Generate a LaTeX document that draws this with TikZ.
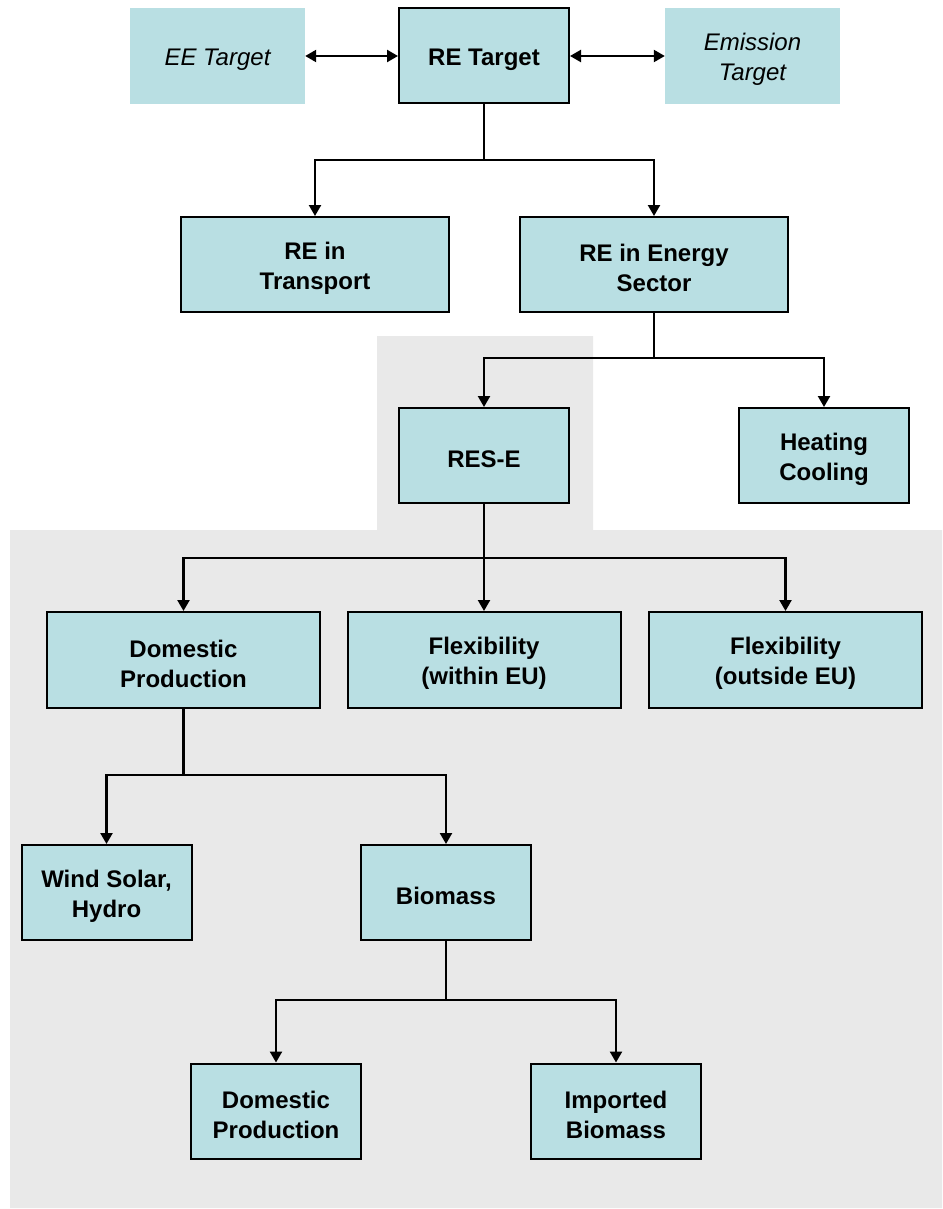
\documentclass[tikz,border=0pt]{standalone}
\usepackage{fontspec}
\setmainfont{Liberation Sans}
\usetikzlibrary{arrows.meta}
\definecolor{boxfill}{HTML}{B9DFE3}
\definecolor{panel}{HTML}{E9E9E9}
\begin{document}
\begin{tikzpicture}[x=1pt,y=-1pt,
  txt/.style={align=center,inner sep=0pt,yshift=-3.5pt,font=\fontsize{24}{30}\selectfont\bfseries},
  itxt/.style={txt,font=\fontsize{24}{30}\selectfont\itshape},
  box/.style={draw=black,line width=2pt,fill=boxfill,inner sep=0pt,label={[txt]center:{#1}}},
  side/.style={fill=boxfill,inner sep=0pt,minimum width=175pt,minimum height=96pt,label={[itxt]center:{#1}}},
  small/.style={box={#1},minimum width=170pt,minimum height=95pt},
  wide/.style={box={#1},minimum width=268pt,minimum height=95pt},
  mid/.style={box={#1},minimum width=273pt,minimum height=96pt},
  wire/.style={line width=2.3pt},
  tip/.tip={Triangle[length=11pt,width=12pt]},
  arr/.style={wire,-tip},
  darr/.style={wire,tip-tip}]
  \useasboundingbox (0,0) rectangle (942,1209);
  \fill[white] (0,0) rectangle (942,1209);
  % grey panel behind the electricity branch
  \fill[panel] (377,336) -- (593,336) -- (593,530) -- (942,530) -- (942,1208)
               -- (10,1208) -- (10,530) -- (377,530) -- cycle;

  % targets
  \node[side={EE Target}]        (ee) at (217.5,56) {};
  \node[small={RE Target}]       (re) at (484,56)   {};
  \node[side={Emission\\Target}] (em) at (752.5,56) {};
  \draw[darr] (ee.east) -- (re.west);
  \draw[darr] (re.east) -- (em.west);

  % sectors
  \node[wide={RE in\\Transport}]    (tr) at (315,264.5) {};
  \node[wide={RE in Energy\\Sector}] (es) at (654,264.5) {};
  \coordinate (b1) at (484,160);
  \draw[wire] (re.south) -- (b1);
  \draw[arr] (b1) -| (tr.north);
  \draw[arr] (b1) -| (es.north);

  % energy sector
  \node[small={RES-E}]            (rese) at (484,455.5) {};
  \node[small={Heating\\Cooling}] (hc)   at (824,455.5) {};
  \coordinate (b2) at (654,358);
  \draw[wire] (es.south) -- (b2);
  \draw[arr] (b2) -| (rese.north);
  \draw[arr] (b2) -| (hc.north);

  % electricity
  \node[mid={Domestic\\Production}]      (dom)  at (183.5,660) {};
  \node[mid={Flexibility\\(within EU)}]  (fin)  at (484,660)   {};
  \node[mid={Flexibility\\(outside EU)}] (fout) at (785.5,660) {};
  \coordinate (b3) at (484,558);
  \draw[arr] (rese.south) -- (fin.north);
  \draw[arr] (b3) -| (dom.north);
  \draw[arr] (b3) -| (fout.north);

  % domestic production
  \node[small={Wind Solar,\\Hydro}] (wsh) at (106.5,892.5) {};
  \node[small={Biomass}]            (bio) at (446,892.5)   {};
  \coordinate (b4) at (183.5,775);
  \draw[wire] (dom.south) -- (b4);
  \draw[arr] (b4) -| (wsh.north);
  \draw[arr] (b4) -| (bio.north);

  % biomass
  \node[small={Domestic\\Production}] (dom2) at (276,1111) {};
  \node[small={Imported\\Biomass}]    (imp)  at (616,1111) {};
  \coordinate (b5) at (446,1000);
  \draw[wire] (bio.south) -- (b5);
  \draw[arr] (b5) -| (dom2.north);
  \draw[arr] (b5) -| (imp.north);
\end{tikzpicture}
\end{document}
